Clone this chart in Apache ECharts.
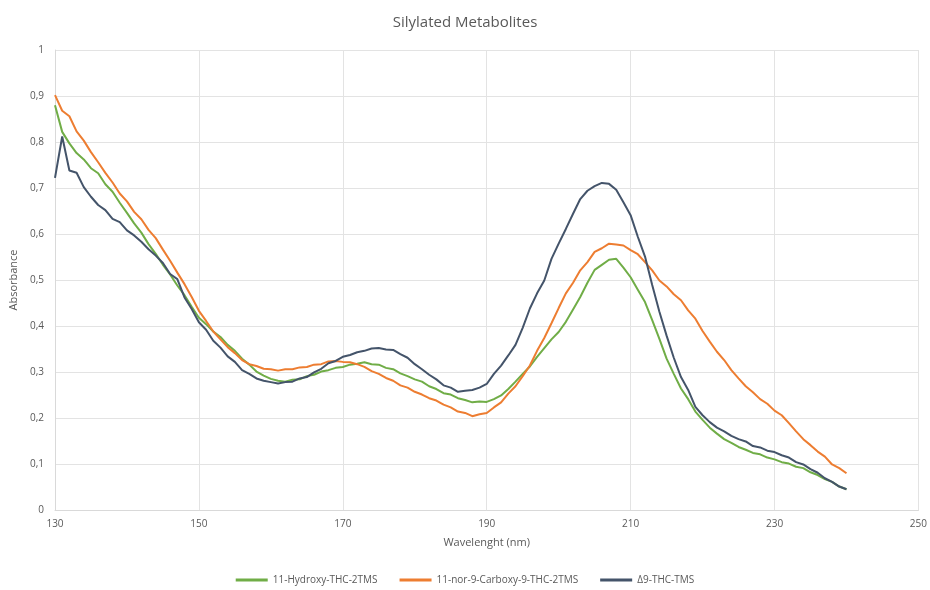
<!DOCTYPE html>
<html lang="en">
<head>
    <meta charset="UTF-8">
    <title>Silylated Metabolites</title>
    <style>
        html, body { margin: 0; padding: 0; background: #fff; }
        #main { width: 930px; height: 590px; }
    </style>
    <script src="https://cdn.jsdelivr.net/npm/echarts@6/dist/echarts.min.js"></script>
</head>
<body>

<div id="main"></div>

<script>

    // wavelength (nm)
    var wavelengths = [130,131,132,133,134,135,136,137,138,139,
        140,141,142,143,144,145,146,147,148,149,
        150,151,152,153,154,155,156,157,158,159,
        160,161,162,163,164,165,166,167,168,169,
        170,171,172,173,174,175,176,177,178,179,
        180,181,182,183,184,185,186,187,188,189,
        190,191,192,193,194,195,196,197,198,199,
        200,201,202,203,204,205,206,207,208,209,
        210,211,212,213,214,215,216,217,218,219,
        220,221,222,223,224,225,226,227,228,229,
        230,231,232,233,234,235,236,237,238,239,240];

    // 11-Hydroxy-THC-2TMS
    var hydroxy = [0.880,0.822,0.797,0.776,0.762,0.743,0.732,0.708,0.692,0.668,
        0.646,0.623,0.603,0.578,0.557,0.533,0.512,0.488,0.467,0.442,
        0.418,0.404,0.388,0.376,0.359,0.346,0.329,0.316,0.301,0.292,
        0.285,0.281,0.279,0.283,0.284,0.291,0.294,0.301,0.304,0.309,
        0.311,0.316,0.318,0.321,0.317,0.316,0.309,0.306,0.297,0.291,
        0.284,0.279,0.269,0.263,0.254,0.251,0.243,0.239,0.234,0.236,
        0.235,0.241,0.249,0.263,0.279,0.296,0.312,0.333,0.352,0.371,
        0.387,0.409,0.436,0.463,0.494,0.522,0.533,0.544,0.546,0.527,
        0.506,0.479,0.452,0.413,0.372,0.329,0.296,0.264,0.241,0.214,
        0.196,0.179,0.166,0.154,0.146,0.137,0.131,0.124,0.121,0.114,
        0.110,0.104,0.101,0.094,0.091,0.082,0.076,0.067,0.061,0.051,0.045];

    // 11-nor-9-Carboxy-9-THC-2TMS
    var carboxy = [0.902,0.868,0.856,0.823,0.803,0.778,0.756,0.733,0.712,0.688,
        0.671,0.648,0.632,0.609,0.591,0.566,0.542,0.516,0.491,0.463,
        0.433,0.411,0.388,0.371,0.354,0.341,0.326,0.317,0.313,0.307,
        0.306,0.303,0.306,0.306,0.310,0.311,0.316,0.317,0.323,0.324,
        0.322,0.321,0.317,0.311,0.302,0.296,0.287,0.281,0.271,0.266,
        0.257,0.251,0.243,0.238,0.229,0.223,0.214,0.211,0.204,0.208,
        0.211,0.223,0.234,0.253,0.269,0.291,0.314,0.346,0.374,0.406,
        0.439,0.471,0.494,0.521,0.539,0.561,0.569,0.579,0.577,0.575,
        0.565,0.556,0.539,0.521,0.499,0.486,0.469,0.456,0.434,0.416,
        0.389,0.366,0.344,0.326,0.304,0.286,0.269,0.256,0.241,0.231,
        0.216,0.206,0.189,0.171,0.154,0.141,0.127,0.116,0.099,0.091,0.080];

    // Δ9-THC-TMS
    var thc = [0.722,0.812,0.738,0.733,0.702,0.681,0.663,0.652,0.633,0.626,
        0.608,0.597,0.583,0.567,0.553,0.537,0.513,0.502,0.462,0.437,
        0.408,0.392,0.368,0.353,0.334,0.322,0.304,0.296,0.286,0.281,
        0.278,0.275,0.278,0.279,0.286,0.289,0.299,0.307,0.319,0.324,
        0.333,0.337,0.343,0.346,0.351,0.352,0.349,0.348,0.339,0.331,
        0.317,0.306,0.294,0.284,0.271,0.266,0.257,0.259,0.261,0.266,
        0.274,0.296,0.314,0.336,0.359,0.396,0.438,0.471,0.499,0.546,
        0.579,0.611,0.644,0.676,0.694,0.704,0.711,0.709,0.696,0.669,
        0.641,0.594,0.551,0.489,0.431,0.379,0.331,0.289,0.261,0.224,
        0.206,0.191,0.179,0.171,0.161,0.154,0.149,0.139,0.136,0.129,
        0.126,0.119,0.114,0.104,0.099,0.089,0.081,0.069,0.061,0.051,0.045];

    var seriesNames = ['11-Hydroxy-THC-2TMS', '11-nor-9-Carboxy-9-THC-2TMS', '\u03949-THC-TMS'];
    var seriesValues = [hydroxy, carboxy, thc];
    var colors = ['#70ad47', '#ed7d31', '#44546a'];

    function pairs(values) {
        var out = [];
        for (var i = 0; i < wavelengths.length; i++) {
            out.push([wavelengths[i], values[i]]);
        }
        return out;
    }

    var series = [];
    for (var s = 0; s < seriesNames.length; s++) {
        series.push({
            name: seriesNames[s],
            type: 'line',
            data: pairs(seriesValues[s]),
            showSymbol: false,
            lineStyle: { width: 2, color: colors[s] },
            itemStyle: { color: colors[s] }
        });
    }

    var textColor = '#595959';
    var font = 'Open Sans, Liberation Sans, sans-serif';

    var chartDom = document.getElementById('main');
    var myChart = echarts.init(chartDom);

    var option = {
        animation: false,
        textStyle: { fontFamily: font },
        title: {
            text: 'Silylated Metabolites',
            left: 'center',
            top: 10,
            textStyle: { color: textColor, fontSize: 15, fontWeight: 'normal', fontFamily: font }
        },
        legend: {
            bottom: 0,
            left: 'center',
            icon: 'rect',
            itemWidth: 32,
            itemHeight: 3,
            itemGap: 22,
            textStyle: { color: textColor, fontSize: 10, fontFamily: font },
            data: seriesNames
        },
        grid: { left: 53, right: 8, top: 50, bottom: 80 },
        xAxis: {
            type: 'value',
            min: 130,
            max: 250,
            interval: 20,
            name: 'Wavelenght (nm)',
            nameLocation: 'middle',
            nameGap: 27,
            nameTextStyle: { color: textColor, fontSize: 11 },
            axisLine: { lineStyle: { color: '#d9d9d9' } },
            axisTick: { show: false },
            axisLabel: { color: textColor, fontSize: 10, margin: 9 },
            splitLine: { show: true, lineStyle: { color: '#e3e3e3' } }
        },
        yAxis: {
            type: 'value',
            min: 0,
            max: 1,
            interval: 0.1,
            name: 'Absorbance',
            nameLocation: 'middle',
            nameGap: 36,
            nameTextStyle: { color: textColor, fontSize: 11 },
            axisLine: { show: true, lineStyle: { color: '#d9d9d9' } },
            axisTick: { show: false },
            axisLabel: {
                color: textColor,
                fontSize: 10,
                margin: 11,
                formatter: function (v) {
                    return String(Math.round(v * 10) / 10).replace('.', ',');
                }
            },
            splitLine: { show: true, lineStyle: { color: '#e3e3e3' } }
        },
        series: series
    };

    myChart.setOption(option);

</script>

</body>
</html>
